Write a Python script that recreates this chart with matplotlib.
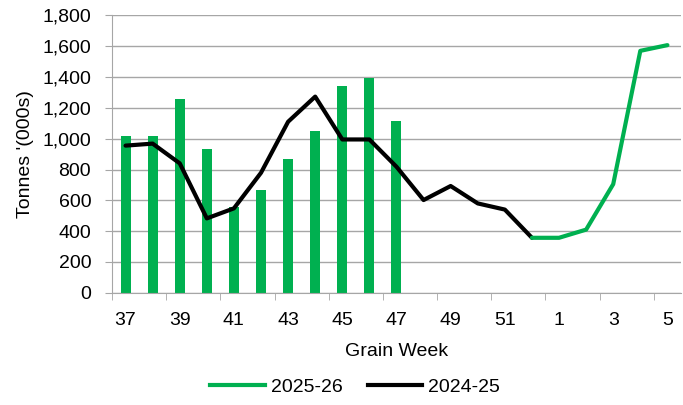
import matplotlib
matplotlib.use("Agg")
import matplotlib.pyplot as plt
import numpy as np

plt.rcParams['font.family'] = ['Liberation Sans', 'DejaVu Sans']

weeks = ["37", "38", "39", "40", "41", "42", "43", "44", "45", "46", "47", "48",
         "49", "50", "51", "52", "1", "2", "3", "4", "5"]

# 2025-26 weekly bars (grain weeks 37-47)
bars_2526 = [1020, 1020, 1255, 935, 560, 667, 870, 1050, 1342, 1396, 1113]
# 2024-25 line, weeks 37-52
line_2425 = [955, 968, 840, 483, 548, 779, 1110, 1273, 995, 995, 818, 602,
             693, 580, 540, 357]
# green continuation, weeks 52-5
line_green = [357, 357, 410, 705, 1570, 1607]

green = "#00B050"
grid_col = "#A6A6A6"
fs = 14

fig = plt.figure(figsize=(6.83, 4.05), dpi=100)
ax = fig.add_axes([0.164, 0.277, 0.833, 0.685])

x = np.arange(len(weeks))
ax.bar(x[:len(bars_2526)], bars_2526, width=0.37, color=green, zorder=2)
ax.plot(x[:len(line_2425)], line_2425, color="black", lw=3, zorder=3,
        solid_joinstyle="round", solid_capstyle="round")
start = len(line_2425) - 1
ax.plot(x[start:start + len(line_green)], line_green, color=green, lw=3, zorder=3,
        solid_joinstyle="round", solid_capstyle="round")

ax.set_ylim(0, 1800)
ax.set_xlim(-0.5, len(weeks) - 0.5)
ax.set_yticks(range(0, 1801, 200))
ax.set_yticklabels([f"{v:,}" for v in range(0, 1801, 200)])
ax.yaxis.grid(True, color=grid_col, lw=1)
ax.set_axisbelow(True)

ax.set_xticks(x[::2])
ax.set_xticklabels(weeks[::2])
ax.set_xticks(np.arange(-0.5, len(weeks), 2), minor=True)
ax.tick_params(axis="x", which="major", length=0, labelsize=fs, pad=14)
ax.tick_params(axis="x", which="minor", length=5, color=grid_col)
ax.tick_params(axis="y", length=5, color=grid_col, labelsize=fs, pad=10)

for s in ["top", "right"]:
    ax.spines[s].set_visible(False)
for s in ["left", "bottom"]:
    ax.spines[s].set_color(grid_col)

ax.set_xlabel("Grain Week", fontsize=fs, labelpad=10)
ax.set_ylabel("Tonnes '(000s)", fontsize=fs, labelpad=6)

handles = [plt.Line2D([], [], color=green, lw=3),
           plt.Line2D([], [], color="black", lw=3)]
fig.legend(handles, ["2025-26", "2024-25"], loc="center", bbox_to_anchor=(0.52, 0.045),
           ncol=2, frameon=False, fontsize=fs, handlelength=2.8, columnspacing=1.3,
           handletextpad=0.3)

fig.savefig("out.png", dpi=100)
